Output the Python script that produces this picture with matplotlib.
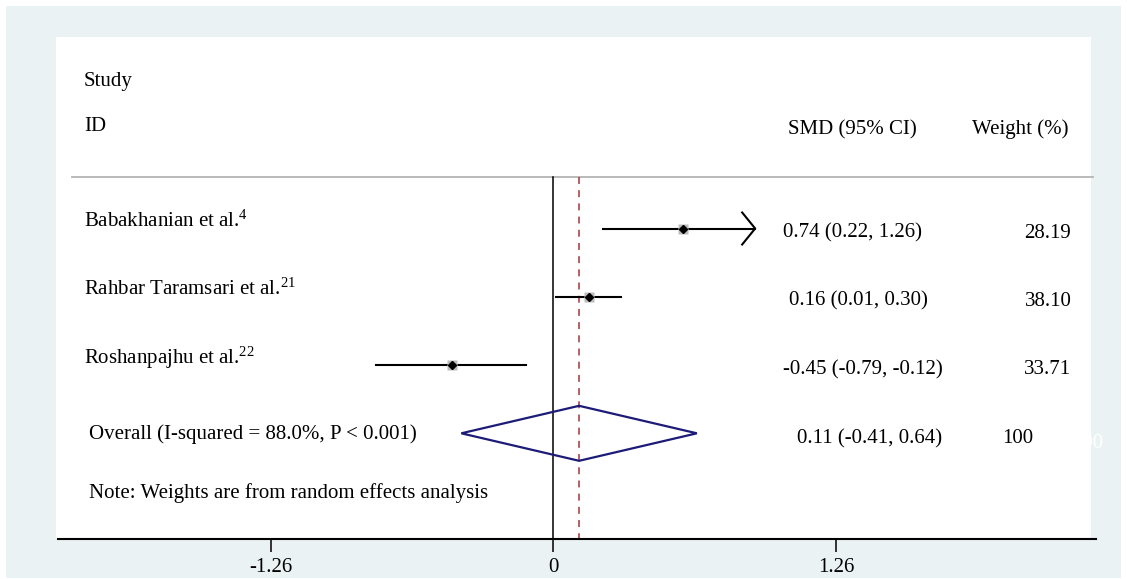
import matplotlib
matplotlib.use('Agg')
import matplotlib.pyplot as plt
from matplotlib.patches import Rectangle, Polygon
import numpy as np

# study rows
studies = ["Babakhanian et al.", "Rahbar Taramsari et al.", "Roshanpajhu et al."]
refs = ["4", "21", "22"]
smd_point = [0.58, 0.16, -0.45]
ci_low = [0.22, 0.01, -0.79]
ci_high = [1.26, 0.30, -0.12]
weights = [28.19, 38.10, 33.71]
smd_text = ["0.74 (0.22, 1.26)", "0.16 (0.01, 0.30)", "-0.45 (-0.79, -0.12)"]
weight_text = ["28.19", "38.10", "33.71"]

# pooled estimate
overall_label = "Overall (I-squared = 88.0%, P < 0.001)"
overall_est = 0.115
overall_low = -0.41
overall_high = 0.64
overall_text = "0.11 (-0.41, 0.64)"
overall_weight = "100"
note = "Note: Weights are from random effects analysis"

x_ticks = [-1.26, 0, 1.26]
x_ticklabels = ["-1.26", "0", "1.26"]
x_clip = 0.9  # CI drawn with an arrow beyond this


def main():
    plt.rcParams['font.family'] = ['Liberation Serif', 'DejaVu Serif']
    plt.rcParams['mathtext.fontset'] = 'custom'
    plt.rcParams['mathtext.rm'] = 'Liberation Serif'
    plt.rcParams['mathtext.it'] = 'Liberation Serif'
    plt.rcParams['lines.scale_dashes'] = False

    W, H = 1127, 579
    fs = 15

    # pixel helpers for layout
    x0_px, ppu = 553.3, 224.3
    y0_px, row_px = 228.5, 68.27

    def xd(px):
        return (px - x0_px) / ppu

    def yd(px):
        return (px - y0_px) / row_px

    fig = plt.figure(figsize=(W / 100, H / 100), dpi=100)
    fig.patch.set_facecolor('white')
    bg = Rectangle((6 / W, 1 - 578 / H), (1121 - 6) / W, (578 - 6) / H,
                   transform=fig.transFigure, facecolor='#EAF2F3',
                   edgecolor='none', zorder=-3)
    panel = Rectangle((56 / W, 1 - 538.5 / H), (1091 - 56) / W, (538.5 - 37) / H,
                      transform=fig.transFigure, facecolor='white',
                      edgecolor='none', zorder=-2)
    fig.add_artist(bg)
    fig.add_artist(panel)

    ax = fig.add_axes([58.3 / W, 1 - 539 / H, (1096 - 58.3) / W, (539 - 37) / H])
    ax.patch.set_visible(False)
    ax.set_xlim(xd(58.3), xd(1096))
    ax.set_ylim(yd(539), yd(37))
    for s in ['top', 'left', 'right']:
        ax.spines[s].set_visible(False)
    ax.spines['bottom'].set_linewidth(1.5)
    ax.set_yticks([])
    ax.set_xticks(x_ticks)
    ax.set_xticklabels(x_ticklabels, fontsize=fs)
    ax.tick_params(axis='x', length=9, width=1.1, pad=5)

    rows = np.arange(len(studies))
    overall_row = len(studies)
    y_top = yd(177.3)
    y_bot = yd(539)

    # header line, null line, pooled line
    ax.plot([xd(71.7), xd(1093)], [y_top, y_top], color='#b4b4b4', lw=1.3,
            clip_on=False, zorder=1)
    ax.plot([0, 0], [y_top, y_bot], color='black', lw=1.1, zorder=2)
    ax.plot([overall_est, overall_est], [y_top, y_bot], color='#A0353A',
            lw=1.1, dashes=(5, 4.5), zorder=2)

    # study CIs
    for i in rows:
        hi = min(ci_high[i], x_clip)
        ax.plot([ci_low[i], hi], [i, i], color='black', lw=1.5, zorder=3)
        if ci_high[i] > x_clip:
            ddx = 13 / ppu
            ddy = 16 / row_px
            ax.plot([hi - ddx, hi, hi - ddx], [i - ddy, i, i + ddy],
                    color='black', lw=1.5, zorder=3)
        side = 1.75 * np.sqrt(weights[i]) * 0.72
        ax.plot(smd_point[i], i, marker='s', ms=side, color='#bcbcbc',
                mec='none', zorder=3)
        ax.plot(smd_point[i], i, marker='D', ms=3.6, color='black', zorder=4)

    # pooled diamond
    half = 27.5 / row_px
    diamond = Polygon([[overall_low, overall_row], [overall_est, overall_row - half],
                       [overall_high, overall_row], [overall_est, overall_row + half]],
                      closed=True, fill=False, edgecolor='#1C1C78', lw=1.6, zorder=4)
    ax.add_patch(diamond)

    # headers
    ax.text(xd(84), yd(86), "Study", fontsize=fs, va='baseline')
    ax.text(xd(84), yd(131), "ID", fontsize=fs, va='baseline')
    ax.text(xd(788), yd(134), "SMD (95% CI)", fontsize=fs, va='baseline')
    ax.text(xd(972), yd(134), "Weight (%)", fontsize=fs, va='baseline')

    # study labels and columns
    value_x = [783, 789, 783]
    for i in rows:
        ax.text(xd(84), i - 1.5 / row_px, studies[i] + "$^{" + refs[i] + "}$",
                fontsize=fs, va='baseline')
        ax.text(xd(value_x[i]), i + 9 / row_px, smd_text[i], fontsize=fs,
                va='baseline')
        ax.text(xd(1048), i + 9 / row_px, weight_text[i], fontsize=fs,
                va='baseline', ha='center')

    ax.text(xd(89), overall_row + 6 / row_px, overall_label, fontsize=fs,
            va='baseline')
    ax.text(xd(797), overall_row + 10 / row_px, overall_text, fontsize=fs,
            va='baseline')
    ax.text(xd(1002), overall_row + 10 / row_px, overall_weight, fontsize=fs,
            va='baseline')
    # faint leftover label at the right edge
    ax.text(xd(1103), overall_row + 15 / row_px, overall_weight, fontsize=fs,
            va='baseline', ha='right', color='white', zorder=0)
    ax.text(xd(89), yd(498), note, fontsize=fs, va='baseline')

    fig.savefig("out.png", dpi=100)


if __name__ == "__main__":
    main()
